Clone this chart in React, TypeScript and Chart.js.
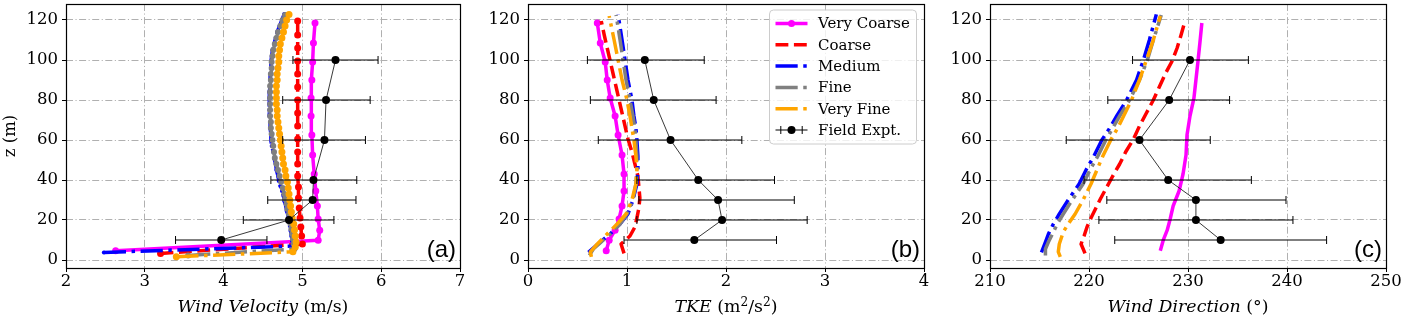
import React, { useEffect, useRef } from "react";
import { Chart, registerables } from "chart.js";

Chart.register(...registerables);

// ---------------- data ----------------
const seriesNames = ["Very Coarse", "Coarse", "Medium", "Fine", "Very Fine", "Field Expt."];
const seriesColors = ["#ff00ff", "#ff0000", "#0000ff", "#808080", "#ffa500", "#000000"];

const velTicks = [2, 3, 4, 5, 6, 7];
const tkeTicks = [0, 1, 2, 3, 4];
const dirTicks = [210, 220, 230, 240, 250];
const zTicks = [0, 20, 40, 60, 80, 100, 120];

// Very Coarse grid
const zVeryCoarse = [4.6, 9.9, 14.9, 20.5, 27, 34.5, 43, 52.5, 62.5, 72, 81, 90, 99, 108.5, 118.5];
const velVeryCoarse = [2.63, 5.2, 5.22, 5.2, 5.19, 5.17, 5.15, 5.13, 5.12, 5.11, 5.11, 5.12, 5.13, 5.14, 5.16];
const tkeVeryCoarse = [0.79, 0.82, 0.88, 0.92, 0.95, 0.97, 0.97, 0.95, 0.91, 0.88, 0.83, 0.8, 0.78, 0.73, 0.7];
const dirVeryCoarse = [227.2, 227.5, 227.9, 228.2, 228.5, 229.1, 229.5, 229.8, 229.9, 230.2, 230.6, 230.8, 231.0, 231.2, 231.4];

// Coarse grid
const zCoarse = [3.3, 8, 12, 16.5, 21, 26, 31, 36.5, 42, 48, 54, 60.5, 67, 73.5, 80, 86.5, 93, 99.5, 106, 112.5, 119.5];
const velCoarse = [3.2, 5.0, 4.99, 4.98, 4.97, 4.96, 4.95, 4.95, 4.94, 4.94, 4.94, 4.94, 4.94, 4.94, 4.94, 4.94, 4.94, 4.94, 4.94, 4.94, 4.94];
const tkeCoarse = [0.97, 0.94, 1.03, 1.08, 1.1, 1.12, 1.13, 1.12, 1.11, 1.08, 1.05, 1.01, 0.98, 0.95, 0.92, 0.89, 0.86, 0.83, 0.8, 0.77, 0.74];
const dirCoarse = [219.6, 219.2, 219.5, 219.8, 220.2, 220.7, 221.2, 221.8, 222.4, 223.1, 223.7, 224.5, 225.1, 225.8, 226.5, 227.1, 227.7, 228.4, 228.9, 229.3, 229.7];

// Medium grid (velocity)
const zMedium = [3.8, 7, 9.5, 12, 14.5, 17, 19.5, 22, 24.5, 27, 29.5, 32, 34.5, 37, 39.5, 42, 45, 48, 51, 54, 57, 60, 63, 66, 69, 72, 75, 78, 81, 84, 87, 90, 93, 96, 99, 102, 105, 108, 111, 114, 117, 120, 123];
const velMedium = [2.48, 4.88, 4.87, 4.86, 4.85, 4.84, 4.83, 4.82, 4.8, 4.79, 4.77, 4.76, 4.74, 4.72, 4.7, 4.69, 4.67, 4.66, 4.64, 4.63, 4.61, 4.6, 4.6, 4.59, 4.59, 4.58, 4.58, 4.58, 4.58, 4.58, 4.59, 4.59, 4.59, 4.6, 4.6, 4.61, 4.62, 4.64, 4.66, 4.68, 4.71, 4.74, 4.77];
// Medium profiles (TKE, direction)
const zMediumProfile = [3.8, 9, 13, 18, 23, 30, 38, 45, 52, 60, 66, 72, 80, 90, 100, 110, 122.8];
const tkeMedium = [0.61, 0.73, 0.83, 0.93, 1.01, 1.06, 1.1, 1.11, 1.11, 1.1, 1.09, 1.07, 1.05, 1.01, 0.98, 0.95, 0.91];
const dirMedium = [215.2, 215.6, 215.9, 216.4, 217.0, 217.9, 219.0, 219.7, 220.5, 221.3, 222.1, 222.8, 223.8, 224.8, 225.5, 226.1, 226.8];

// Fine grid (velocity)
const zFine = [2.3, 5.5, 8, 10.5, 13, 15.5, 18, 20.5, 23, 25.5, 28, 30.5, 33, 36, 39, 42, 45, 48, 51, 54, 57, 60, 63, 66, 69, 72, 75, 78, 81, 84, 87, 90, 93, 96, 99, 102, 105, 108, 111, 114, 117, 120, 122.5];
const velFine = [3.55, 4.9, 4.89, 4.88, 4.87, 4.86, 4.85, 4.84, 4.83, 4.81, 4.8, 4.78, 4.77, 4.75, 4.73, 4.71, 4.69, 4.67, 4.65, 4.64, 4.63, 4.62, 4.61, 4.6, 4.6, 4.59, 4.59, 4.59, 4.59, 4.59, 4.59, 4.6, 4.6, 4.61, 4.61, 4.62, 4.63, 4.65, 4.67, 4.69, 4.72, 4.75, 4.78];
// Fine profiles
const zFineProfile = [2.3, 5.5, 9, 13, 18, 23, 30, 38, 45, 52, 60, 66, 72, 80, 90, 100, 110, 122.5];
const tkeFine = [0.62, 0.66, 0.74, 0.83, 0.93, 1.0, 1.06, 1.09, 1.1, 1.1, 1.09, 1.08, 1.06, 1.03, 0.99, 0.96, 0.93, 0.89];
const dirFine = [215.6, 215.6, 215.9, 216.3, 216.8, 217.4, 218.3, 219.4, 220.1, 220.9, 221.7, 222.4, 223.1, 224.1, 225.1, 225.9, 226.5, 227.3];

// Very Fine grid (velocity)
const zVeryFine = [1.6, 4.1, 6.5, 9, 12, 15, 18, 21, 24, 27, 30, 33, 36, 39, 42, 45, 48, 51, 54, 57, 60, 63, 66, 69, 72, 75, 78, 81, 84, 87, 90, 93, 96, 99, 102, 105, 108, 111, 114, 117, 120, 122.7];
const velVeryFine = [3.4, 4.88, 4.91, 4.92, 4.91, 4.9, 4.89, 4.87, 4.86, 4.85, 4.84, 4.83, 4.82, 4.81, 4.79, 4.78, 4.76, 4.75, 4.74, 4.73, 4.72, 4.71, 4.7, 4.69, 4.68, 4.68, 4.67, 4.67, 4.67, 4.67, 4.68, 4.68, 4.69, 4.7, 4.7, 4.71, 4.72, 4.74, 4.76, 4.78, 4.8, 4.83];
// Very Fine profiles
const zVeryFineProfile = [1.6, 4.1, 8, 14, 18, 23, 30, 38, 45, 52, 60, 66, 72, 80, 90, 100, 110, 122];
const tkeVeryFine = [0.64, 0.63, 0.7, 0.82, 0.9, 0.99, 1.05, 1.09, 1.1, 1.09, 1.07, 1.05, 1.03, 1.0, 0.95, 0.91, 0.87, 0.82];
const dirVeryFine = [217.1, 216.9, 217.0, 217.4, 217.9, 218.6, 219.4, 220.2, 220.8, 221.4, 222.2, 222.9, 223.5, 224.3, 225.1, 225.8, 226.5, 227.2];

// Field experiment
const zField = [10, 20, 30, 40, 60, 80, 100];
const velField = [3.97, 4.83, 5.13, 5.14, 5.28, 5.3, 5.42];
const velFieldLow = [3.39, 4.25, 4.56, 4.6, 4.75, 4.75, 4.88];
const velFieldHigh = [4.55, 5.4, 5.68, 5.69, 5.8, 5.86, 5.96];
const tkeField = [1.68, 1.96, 1.92, 1.72, 1.44, 1.27, 1.18];
const tkeFieldLow = [0.97, 1.1, 1.12, 1.1, 0.71, 0.63, 0.6];
const tkeFieldHigh = [2.51, 2.82, 2.69, 2.49, 2.16, 1.9, 1.78];
const dirField = [233.3, 230.8, 230.8, 228.0, 225.1, 228.1, 230.2];
const dirFieldLow = [222.6, 221.0, 221.8, 219.5, 217.7, 221.9, 224.4];
const dirFieldHigh = [244.0, 240.6, 239.9, 236.4, 232.25, 234.2, 236.1];

// ---------------- styles ----------------
const SERIF = '"DejaVu Serif", serif';
const SANS = '"Liberation Sans", Arial, sans-serif';
const LINE_W = 3.5;
const DASH = [12.85, 5.56];
const DASHDOT = [22.2, 5.56, 3.47, 5.56];
const seriesDash = [[], DASH, DASHDOT, DASHDOT, DASHDOT];
const GRID_DASH = [7, 2.5, 1.1, 2.5];
const H = 318;
const X_AXIS_H = 50;

type SeriesDef = { z: number[]; v: number[]; r: number };
type PanelDef = {
  key: string;
  left: number;
  width: number;
  padRight: number;
  yAxisWidth: number;
  xMin: number;
  xMax: number;
  xTicks: number[];
  label: string;
  yTitle: boolean;
  legend: boolean;
  series: SeriesDef[];
  field: { v: number[]; lo: number[]; hi: number[] };
};

const panels: PanelDef[] = [
  {
    key: "a", left: 0, width: 468, padRight: 8, yAxisWidth: 66, xMin: 2, xMax: 7, xTicks: velTicks,
    label: "(a)", yTitle: true, legend: false,
    series: [
      { z: zVeryCoarse, v: velVeryCoarse, r: 3.5 },
      { z: zCoarse, v: velCoarse, r: 3.5 },
      { z: zMedium, v: velMedium, r: 2 },
      { z: zFine, v: velFine, r: 3 },
      { z: zVeryFine, v: velVeryFine, r: 3.5 },
    ],
    field: { v: velField, lo: velFieldLow, hi: velFieldHigh },
  },
  {
    key: "b", left: 468, width: 464, padRight: 8, yAxisWidth: 60, xMin: 0, xMax: 4, xTicks: tkeTicks,
    label: "(b)", yTitle: false, legend: true,
    series: [
      { z: zVeryCoarse, v: tkeVeryCoarse, r: 3.5 },
      { z: zCoarse, v: tkeCoarse, r: 0 },
      { z: zMediumProfile, v: tkeMedium, r: 0 },
      { z: zFineProfile, v: tkeFine, r: 0 },
      { z: zVeryFineProfile, v: tkeVeryFine, r: 0 },
    ],
    field: { v: tkeField, lo: tkeFieldLow, hi: tkeFieldHigh },
  },
  {
    key: "c", left: 932, width: 469, padRight: 15, yAxisWidth: 58, xMin: 210, xMax: 250, xTicks: dirTicks,
    label: "(c)", yTitle: false, legend: false,
    series: [
      { z: zVeryCoarse, v: dirVeryCoarse, r: 0 },
      { z: zCoarse, v: dirCoarse, r: 0 },
      { z: zMediumProfile, v: dirMedium, r: 0 },
      { z: zFineProfile, v: dirFine, r: 0 },
      { z: zVeryFineProfile, v: dirVeryFine, r: 0 },
    ],
    field: { v: dirField, lo: dirFieldLow, hi: dirFieldHigh },
  },
];

// ---------------- plugins ----------------
const errorBarPlugin = {
  id: "errBars",
  afterDatasetsDraw(chart: any) {
    const xs = chart.scales.x;
    const ys = chart.scales.y;
    const ctx = chart.ctx;
    chart.data.datasets.forEach((d: any) => {
      if (!d.errLow) return;
      ctx.save();
      ctx.strokeStyle = "#000";
      ctx.lineWidth = 1;
      ctx.setLineDash([]);
      d.data.forEach((pt: any, k: number) => {
        const py = ys.getPixelForValue(pt.y);
        const x0 = xs.getPixelForValue(d.errLow[k]);
        const x1 = xs.getPixelForValue(d.errHigh[k]);
        ctx.beginPath();
        ctx.moveTo(x0, py);
        ctx.lineTo(x1, py);
        ctx.moveTo(x0, py - 4);
        ctx.lineTo(x0, py + 4);
        ctx.moveTo(x1, py - 4);
        ctx.lineTo(x1, py + 4);
        ctx.stroke();
      });
      ctx.restore();
    });
  },
};

const framePlugin = {
  id: "frame",
  afterDraw(chart: any, _a: any, opts: any) {
    const { ctx, chartArea } = chart;
    const l = Math.round(chartArea.left) + 0.5;
    const t = Math.round(chartArea.top) + 0.5;
    const r = Math.round(chartArea.right) + 0.5;
    const b = Math.round(chartArea.bottom) + 0.5;
    ctx.save();
    ctx.strokeStyle = "#000";
    ctx.lineWidth = 1.2;
    ctx.setLineDash([]);
    ctx.strokeRect(l, t, r - l, b - t);
    if (opts && opts.label) {
      ctx.fillStyle = "#000";
      ctx.font = `24px ${SANS}`;
      ctx.textAlign = "right";
      ctx.textBaseline = "alphabetic";
      ctx.fillText(opts.label, chartArea.right - 4, chartArea.bottom - 11);
    }
    ctx.restore();
  },
};

function roundRectPath(ctx: CanvasRenderingContext2D, x: number, y: number, w: number, h: number, r: number) {
  ctx.beginPath();
  ctx.moveTo(x + r, y);
  ctx.lineTo(x + w - r, y);
  ctx.arcTo(x + w, y, x + w, y + r, r);
  ctx.lineTo(x + w, y + h - r);
  ctx.arcTo(x + w, y + h, x + w - r, y + h, r);
  ctx.lineTo(x + r, y + h);
  ctx.arcTo(x, y + h, x, y + h - r, r);
  ctx.lineTo(x, y + r);
  ctx.arcTo(x, y, x + r, y, r);
  ctx.closePath();
}

const legendPlugin = {
  id: "boxLegend",
  afterDraw(chart: any, _a: any, opts: any) {
    if (!opts || !opts.show) return;
    const { ctx, chartArea } = chart;
    const bw = 147;
    const bh = 134;
    const bx = chartArea.right - 7.5 - bw;
    const by = chartArea.top + 6;
    ctx.save();
    roundRectPath(ctx, bx, by, bw, bh, 4);
    ctx.fillStyle = "rgba(255,255,255,0.8)";
    ctx.fill();
    ctx.strokeStyle = "#cccccc";
    ctx.lineWidth = 1;
    ctx.stroke();
    const hx0 = bx + 6;
    const hx1 = bx + 38;
    const hc = (hx0 + hx1) / 2;
    seriesNames.forEach((name, i) => {
      const yy = by + 13.5 + i * 21.3;
      ctx.setLineDash([]);
      if (i < 5) {
        ctx.strokeStyle = seriesColors[i];
        ctx.lineWidth = LINE_W;
        ctx.lineCap = "butt";
        ctx.setLineDash(seriesDash[i]);
        ctx.beginPath();
        ctx.moveTo(hx0, yy);
        ctx.lineTo(hx1, yy);
        ctx.stroke();
        ctx.setLineDash([]);
        if (i === 0) {
          ctx.fillStyle = seriesColors[i];
          ctx.beginPath();
          ctx.arc(hc, yy, 3.5, 0, Math.PI * 2);
          ctx.fill();
        }
      } else {
        ctx.strokeStyle = "#000";
        ctx.lineWidth = 1;
        ctx.beginPath();
        ctx.moveTo(hx0, yy);
        ctx.lineTo(hx1, yy);
        ctx.moveTo(hc - 10.7, yy - 4);
        ctx.lineTo(hc - 10.7, yy + 4);
        ctx.moveTo(hc + 10.7, yy - 4);
        ctx.lineTo(hc + 10.7, yy + 4);
        ctx.stroke();
        ctx.fillStyle = "#000";
        ctx.beginPath();
        ctx.arc(hc, yy, 4, 0, Math.PI * 2);
        ctx.fill();
      }
      ctx.fillStyle = "#000";
      ctx.font = `15px ${SERIF}`;
      ctx.textAlign = "left";
      ctx.textBaseline = "middle";
      ctx.fillText(name, bx + 48.5, yy + 1);
    });
    ctx.restore();
  },
};

// ---------------- components ----------------
function Panel({ p }: { p: PanelDef }) {
  const ref = useRef<HTMLCanvasElement>(null);
  useEffect(() => {
    const datasets: any[] = p.series.map((s, i) => ({
      label: seriesNames[i],
      data: s.z.map((z, k) => ({ x: s.v[k], y: z })),
      borderColor: seriesColors[i],
      backgroundColor: seriesColors[i],
      borderWidth: LINE_W,
      borderDash: seriesDash[i],
      borderCapStyle: "butt",
      borderJoinStyle: "round",
      pointRadius: s.r,
      pointHoverRadius: s.r,
      pointBorderWidth: 0,
      pointBackgroundColor: seriesColors[i],
      showLine: true,
      fill: false,
      order: 10 - i,
    }));
    datasets.push({
      label: seriesNames[5],
      data: zField.map((z, k) => ({ x: p.field.v[k], y: z })),
      errLow: p.field.lo,
      errHigh: p.field.hi,
      borderColor: "#222",
      backgroundColor: "#000",
      borderWidth: 0.9,
      pointRadius: 4,
      pointHoverRadius: 4,
      pointBorderWidth: 0,
      pointBackgroundColor: "#000",
      showLine: true,
      fill: false,
      order: 0,
    });

    const chart = new Chart(ref.current as HTMLCanvasElement, {
      type: "scatter",
      data: { datasets },
      plugins: [errorBarPlugin, framePlugin, legendPlugin],
      options: {
        animation: false,
        responsive: false,
        devicePixelRatio: 1,
        events: [],
        layout: { padding: { left: 0, right: p.padRight, top: 1, bottom: 0 } },
        plugins: {
          legend: { display: false },
          tooltip: { enabled: false },
          frame: { label: p.label },
          boxLegend: { show: p.legend },
        } as any,
        scales: {
          x: {
            type: "linear",
            min: p.xMin,
            max: p.xMax,
            afterBuildTicks: (scale: any) => {
              scale.ticks = p.xTicks.map((v) => ({ value: v }));
            },
            afterFit: (scale: any) => {
              scale.height = X_AXIS_H;
              scale.paddingLeft = 0;
              scale.paddingRight = 0;
            },
            ticks: {
              color: "#000",
              font: { family: SERIF, size: 16.5 },
              padding: 0,
              maxRotation: 0,
              autoSkip: false,
            },
            grid: {
              color: "#b0b0b0",
              lineWidth: 1,
              drawTicks: true,
              tickLength: 4,
              tickColor: "#000",
              tickWidth: 1,
              tickBorderDash: [],
            },
            border: { display: false, dash: GRID_DASH },
          },
          y: {
            type: "linear",
            min: -4,
            max: 128,
            afterBuildTicks: (scale: any) => {
              scale.ticks = zTicks.map((v) => ({ value: v }));
            },
            afterFit: (scale: any) => {
              scale.width = p.yAxisWidth;
              scale.paddingTop = 0;
              scale.paddingBottom = 0;
            },
            title: {
              display: p.yTitle,
              text: "z (m)",
              color: "#000",
              font: { family: SERIF, size: 16.5 },
              padding: { top: 1, bottom: 0 },
            },
            ticks: {
              color: "#000",
              font: { family: SERIF, size: 16.5 },
              padding: 4,
              autoSkip: false,
            },
            grid: {
              color: "#b0b0b0",
              lineWidth: 1,
              drawTicks: true,
              tickLength: 4,
              tickColor: "#000",
              tickWidth: 1,
              tickBorderDash: [],
            },
            border: { display: false, dash: GRID_DASH },
          },
        } as any,
      } as any,
    });
    return () => chart.destroy();
  }, [p]);
  return (
    <canvas
      ref={ref}
      width={p.width}
      height={H}
      style={{ position: "absolute", left: p.left, top: 0, width: p.width, height: H }}
    />
  );
}

const titleStyle: React.CSSProperties = {
  position: "absolute",
  top: 295,
  height: 22,
  lineHeight: "22px",
  textAlign: "center",
  fontFamily: SERIF,
  fontSize: 17.4,
  color: "#000",
  whiteSpace: "nowrap",
};
const supStyle: React.CSSProperties = { fontSize: "0.7em", verticalAlign: "0.5em", lineHeight: 0 };

export default function App() {
  return (
    <div
      style={{
        position: "absolute",
        left: 0,
        top: 0,
        width: 1401,
        height: H,
        background: "#fff",
        overflow: "hidden",
      }}
    >
      {panels.map((p) => (
        <Panel key={p.key} p={p} />
      ))}
      <div style={{ ...titleStyle, left: 66, width: 394 }}>
        <i>Wind Velocity</i> (m/s)
      </div>
      <div style={{ ...titleStyle, left: 528, width: 396 }}>
        <i>TKE</i> (m<sup style={supStyle}>2</sup>/s<sup style={supStyle}>2</sup>)
      </div>
      <div style={{ ...titleStyle, left: 990, width: 396 }}>
        <i>Wind Direction</i> (°)
      </div>
    </div>
  );
}
